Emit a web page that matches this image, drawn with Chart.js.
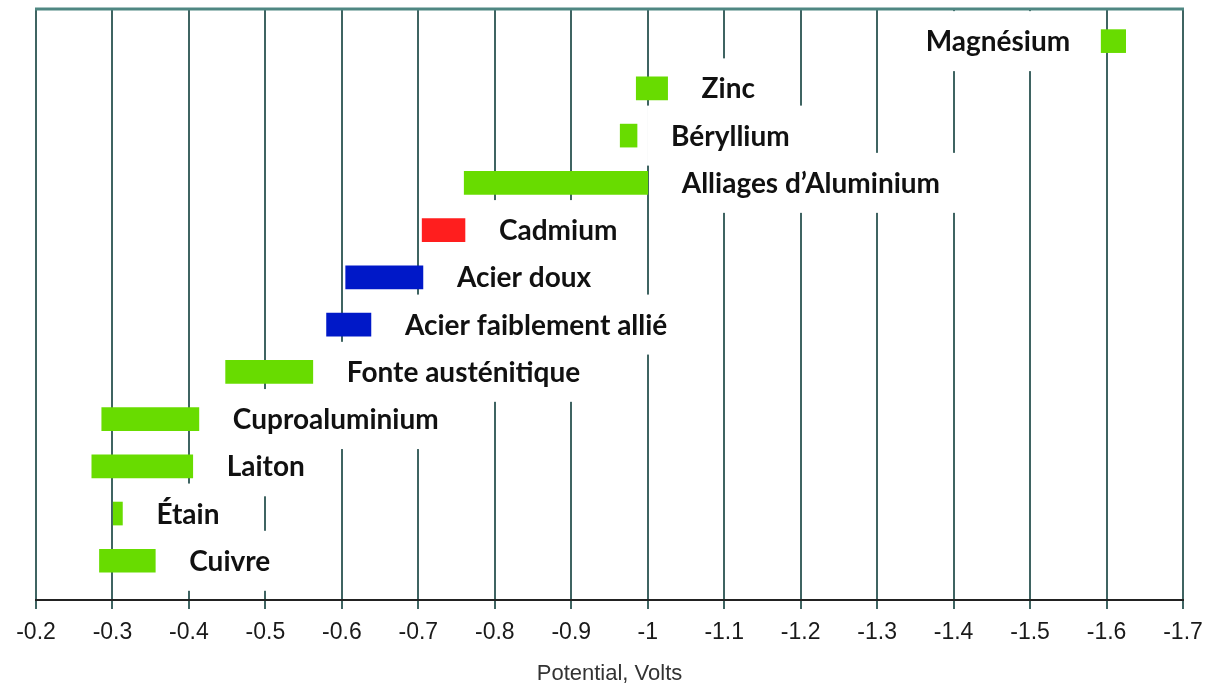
<!DOCTYPE html>
<html><head><meta charset="utf-8">
<script src="https://cdn.jsdelivr.net/npm/chart.js@4.4.0/dist/chart.umd.min.js"></script>
<style>html,body{margin:0;padding:0;background:#fff;} #wrap{width:1215px;height:687px;position:relative;}</style>
</head><body><div id="wrap"><canvas id="c"></canvas></div>
<script>
// ---- data ----
const metals = ['Magnésium','Zinc','Béryllium','Alliages d’Aluminium','Cadmium','Acier doux','Acier faiblement allié','Fonte austénitique','Cuproaluminium','Laiton','Étain','Cuivre'];
const potentialLow  = [-1.593,-0.985,-0.964,-0.760,-0.705,-0.605,-0.580,-0.448,-0.286,-0.273,-0.301,-0.283];
const potentialHigh = [-1.625,-1.026,-0.986,-1.000,-0.761,-0.706,-0.638,-0.562,-0.413,-0.405,-0.313,-0.356];
const tickValues = [-0.2,-0.3,-0.4,-0.5,-0.6,-0.7,-0.8,-0.9,-1.0,-1.1,-1.2,-1.3,-1.4,-1.5,-1.6,-1.7];
const tickLabels = ['-0.2','-0.3','-0.4','-0.5','-0.6','-0.7','-0.8','-0.9','-1','-1.1','-1.2','-1.3','-1.4','-1.5','-1.6','-1.7'];
const axisTitle = 'Potential, Volts';

// ---- style ----
const GREEN = '#68dc00', RED = '#ff1e1e', BLUE = '#0018c8';
const barColors = [GREEN,GREEN,GREEN,GREEN,RED,BLUE,BLUE,GREEN,GREEN,GREEN,GREEN,GREEN];
const LABEL_FONT = 'bold 28px Lato';
const GAP = 34, BOX_PADX = 24, BOX_HALFH = 30;

function layoutLabels(chart){
  const ctx = chart.ctx, xs = chart.scales.x, ys = chart.scales.y;
  ctx.save(); ctx.font = LABEL_FONT;
  const out = metals.map((m,i)=>{
    const w = ctx.measureText(m).width;
    const a = xs.getPixelForValue(potentialLow[i]), b = xs.getPixelForValue(potentialHigh[i]);
    const left = Math.min(a,b), right = Math.max(a,b);
    let x = right + GAP;
    if (x + w > chart.chartArea.right - 10) x = left - GAP + 3 - w;
    return {text:m, x, y: ys.getPixelForValue(i), w};
  });
  ctx.restore();
  return out;
}
const labelPlugin = {
  id:'metalLabels',
  beforeDatasetsDraw(chart){
    const ctx = chart.ctx;
    ctx.save(); ctx.fillStyle = '#ffffff';
    layoutLabels(chart).forEach(l=>{
      ctx.fillRect(l.x - BOX_PADX, l.y - BOX_HALFH, l.w + 2*BOX_PADX, 2*BOX_HALFH);
    });
    ctx.restore();
  },
  afterDatasetsDraw(chart){
    const ctx = chart.ctx, ca = chart.chartArea;
    ctx.save();
    ctx.strokeStyle = '#4f8782'; ctx.lineWidth = 3;
    ctx.beginPath(); ctx.moveTo(ca.left-1, ca.top); ctx.lineTo(ca.right+1, ca.top); ctx.stroke();
    ctx.font = LABEL_FONT; ctx.fillStyle = '#111'; ctx.textBaseline = 'middle'; ctx.textAlign = 'left';
    layoutLabels(chart).forEach(l=> ctx.fillText(l.text, l.x, l.y + 1));
    ctx.restore();
  }
};

new Chart(document.getElementById('c'), {
  type:'bar',
  data:{
    datasets:[{
      data: metals.map((m,i)=>({x:[potentialLow[i], potentialHigh[i]], y:i})),
      backgroundColor: barColors,
      borderWidth: 0,
      barThickness: 23
    }]
  },
  options:{
    indexAxis:'y',
    responsive:true, maintainAspectRatio:false, animation:false,
    layout:{padding:{left:36, right:32, top:9, bottom:0}},
    plugins:{legend:{display:false}, tooltip:{enabled:false}},
    scales:{
      x:{
        type:'linear', min:-1.7, max:-0.2, reverse:true,
        afterBuildTicks: axis => { axis.ticks = tickValues.map(v=>({value:v})); },
        ticks:{
          autoSkip:false, maxRotation:0, padding:10, color:'#1a1a1a',
          font:{family:'Liberation Sans', size:23},
          callback:(v,i)=> tickLabels[i]
        },
        grid:{color:'#3f6462', lineWidth:2, tickLength:9, drawTicks:true},
        border:{color:'#222', width:2},
        title:{display:true, text:axisTitle, color:'#333', font:{family:'Liberation Sans', size:22}, padding:{top:4, bottom:0}}
      },
      y:{type:'linear', min:-0.68, max:11.83, reverse:true, display:false, offset:false}
    }
  },
  plugins:[labelPlugin]
});
</script></body></html>
